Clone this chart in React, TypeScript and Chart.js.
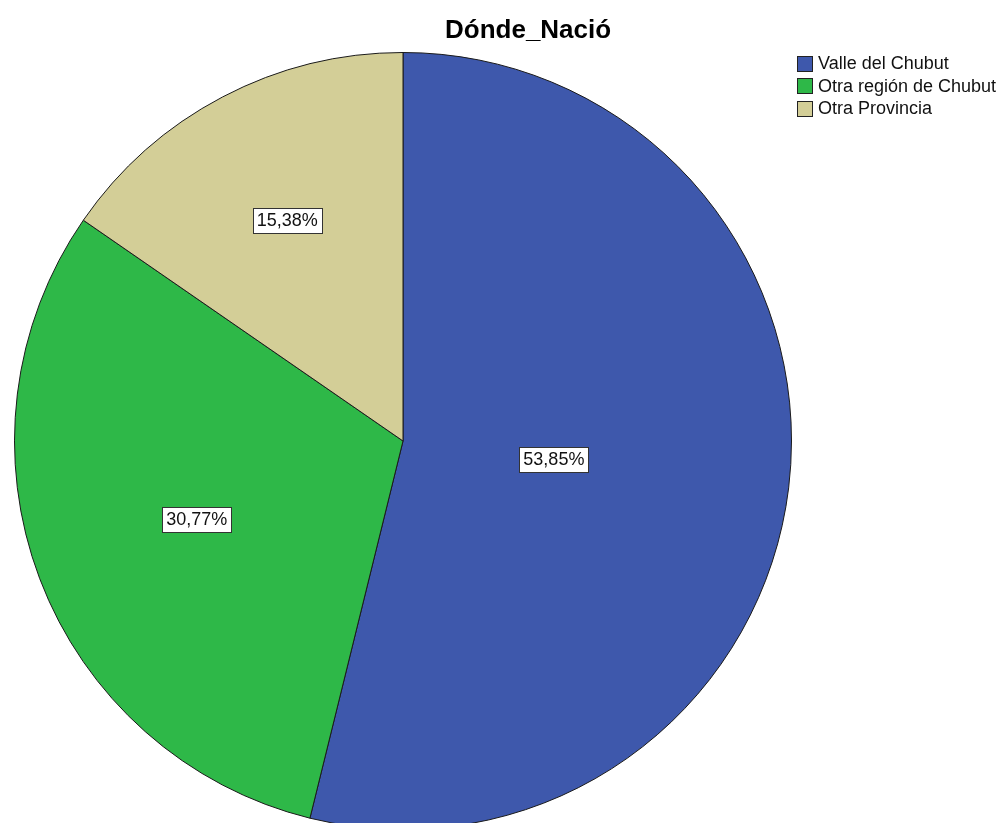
import React, { useEffect, useRef } from "react";
import { Chart, registerables } from "chart.js";

Chart.register(...registerables);

const title = "Dónde_Nació";
const categories = ["Valle del Chubut", "Otra región de Chubut", "Otra Provincia"];
const percentages = [53.85, 30.77, 15.38];
const percentLabels = ["53,85%", "30,77%", "15,38%"];
const colors = ["#3E58AC", "#2EB848", "#D3CE97"];

const FONT = '"Liberation Sans", Arial, sans-serif';

const overlayPlugin = {
  id: "overlay",
  afterDatasetsDraw(chart: any) {
    const ctx = chart.ctx;
    const meta = chart.getDatasetMeta(0);
    ctx.save();
    ctx.font = `18px ${FONT}`;
    ctx.textAlign = "center";
    ctx.textBaseline = "middle";
    meta.data.forEach((arc: any, i: number) => {
      const p = arc.getProps(["x", "y", "startAngle", "endAngle", "outerRadius"], true);
      const half = (p.endAngle - p.startAngle) / 2;
      const mid = p.startAngle + half;
      const r = (2 * p.outerRadius * Math.sin(half)) / (3 * half);
      const cx = p.x + r * Math.cos(mid);
      const cy = p.y + r * Math.sin(mid);
      const text = percentLabels[i];
      const w = ctx.measureText(text).width + 8;
      const h = 25;
      ctx.fillStyle = "#ffffff";
      ctx.fillRect(Math.round(cx - w / 2), Math.round(cy - h / 2), Math.round(w), h);
      ctx.strokeStyle = "#333333";
      ctx.lineWidth = 1;
      ctx.strokeRect(Math.round(cx - w / 2) + 0.5, Math.round(cy - h / 2) + 0.5, Math.round(w), h);
      ctx.fillStyle = "#111111";
      ctx.fillText(text, cx, cy + 1);
    });
    ctx.restore();
  },
  afterDraw(chart: any) {
    const ctx = chart.ctx;
    ctx.save();
    // title
    ctx.font = `bold 26px ${FONT}`;
    ctx.fillStyle = "#000000";
    ctx.textAlign = "left";
    ctx.textBaseline = "alphabetic";
    ctx.fillText(title, 445, 38);
    // legend
    ctx.font = `18px ${FONT}`;
    ctx.textBaseline = "middle";
    categories.forEach((c, i) => {
      const y = 63.5 + i * 22.5;
      ctx.fillStyle = colors[i];
      ctx.fillRect(797, Math.round(y - 8), 16, 16);
      ctx.strokeStyle = "#222222";
      ctx.lineWidth = 1;
      ctx.strokeRect(797.5, Math.round(y - 8) + 0.5, 15, 15);
      ctx.fillStyle = "#111111";
      ctx.fillText(c, 818, y + 1);
    });
    ctx.restore();
  },
};

export default function App() {
  const ref = useRef<HTMLCanvasElement | null>(null);
  useEffect(() => {
    document.body.style.margin = "0";
    const chart = new Chart(ref.current as HTMLCanvasElement, {
      type: "pie",
      data: {
        labels: categories,
        datasets: [
          {
            data: percentages,
            backgroundColor: colors,
            borderColor: "#1a1a1a",
            borderWidth: 1,
          },
        ],
      },
      options: {
        responsive: false,
        animation: false,
        devicePixelRatio: 1,
        layout: { padding: { left: 14, right: 212, top: 52, bottom: 30 } },
        plugins: {
          legend: { display: false },
          title: { display: false },
          tooltip: { enabled: false },
        },
      },
      plugins: [overlayPlugin],
    });
    return () => chart.destroy();
  }, []);
  return (
    <div style={{ position: "absolute", left: 0, top: 0, width: 1004, height: 823, overflow: "hidden", background: "#fff" }}>
      <canvas ref={ref} width={1004} height={860} style={{ width: 1004, height: 860, display: "block" }} />
    </div>
  );
}
